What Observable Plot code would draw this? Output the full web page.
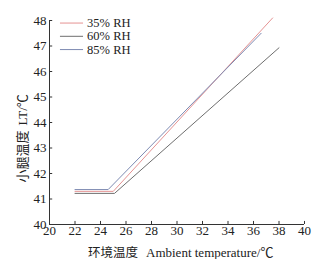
<!DOCTYPE html>
<html><head><meta charset="utf-8">
<script src="https://cdn.jsdelivr.net/npm/d3@7"></script>
<script src="https://cdn.jsdelivr.net/npm/@observablehq/plot@0.6"></script>
<style>body{margin:0;background:#fff}</style>
</head><body><div id="chart"></div>
<script>
const series = ["35% RH", "60% RH", "85% RH"];
const colors = ["#e59393", "#6e6e6e", "#7d8ab2"];
const temp35 = [22, 25.0, 37.5];
const lt35 = [41.3, 41.3, 48.1];
const temp60 = [22, 25.1, 38];
const lt60 = [41.22, 41.22, 46.93];
const temp85 = [22, 24.6, 36.6];
const lt85 = [41.37, 41.37, 47.5];
const xTicks = [20, 22, 24, 26, 28, 30, 32, 34, 36, 38, 40];
const yTicks = [40, 41, 42, 43, 44, 45, 46, 47, 48];
const xLabelZh = "环境温度";
const xLabelEn = "Ambient temperature/℃";
const yLabelZh = "小腿温度";
const yLabelEn = "LT/℃";

const rows = [];
[[temp35, lt35], [temp60, lt60], [temp85, lt85]].forEach(([xs, ys], i) =>
  xs.forEach((x, j) => rows.push({s: series[i], x, y: ys[j]})));

const serif = "'Liberation Serif', 'Noto Sans CJK SC', serif";
const cjk = "'Noto Sans CJK SC', sans-serif";
const legY = [47.9, 47.38, 46.86];
const legend = series.map((s, i) => ({s, y: legY[i]}));
const fs = 13;

const chart = Plot.plot({
  width: 317, height: 259,
  marginLeft: 49, marginRight: 13, marginTop: 20, marginBottom: 35,
  style: {fontFamily: serif, fontSize: "13px", color: "#222", background: "#fff"},
  x: {domain: [20, 40]},
  y: {domain: [40, 48]},
  color: {domain: series, range: colors},
  marks: [
    Plot.ruleY([40], {stroke: "#333"}),
    Plot.ruleX([20], {stroke: "#333"}),
    Plot.ruleX(xTicks, {y1: 40, y2: 40.12, stroke: "#333"}),
    Plot.ruleY(yTicks, {x1: 20, x2: 20.25, stroke: "#333"}),
    Plot.axisX(xTicks, {tickSize: 0, tickPadding: 1, label: null, fontSize: fs, fontFamily: serif, fill: "#222"}),
    Plot.axisY(yTicks, {tickSize: 0, tickPadding: 3, label: null, fontSize: fs, fontFamily: serif, fill: "#222"}),
    Plot.line(rows, {x: "x", y: "y", z: "s", stroke: "s", strokeWidth: 1}),
    Plot.ruleY(legend, {y: "y", x1: 20.86, x2: 22.67, stroke: "s", strokeWidth: 1}),
    Plot.text(legend, {y: "y", x: 22.95, text: "s", textAnchor: "start", fontSize: 12.5, fontFamily: serif, fill: "#222"}),
    Plot.text([xLabelZh], {frameAnchor: "bottom", lineAnchor: "bottom", dy: 32, dx: -39, textAnchor: "end", fontSize: 12.5, fontFamily: cjk, fill: "#222"}),
    Plot.text([xLabelEn], {frameAnchor: "bottom", lineAnchor: "bottom", dy: 32, dx: -31, textAnchor: "start", fontSize: fs, fontFamily: serif, fill: "#222"}),
    Plot.text([yLabelZh], {frameAnchor: "left", dx: -27, dy: 60, rotate: -90, textAnchor: "start", fontSize: 13, fontFamily: cjk, fill: "#222"}),
    Plot.text([yLabelEn], {frameAnchor: "left", dx: -27, dy: 3, rotate: -90, textAnchor: "start", fontSize: fs, fontFamily: serif, fill: "#222"})
  ]
});
document.getElementById("chart").append(chart);
</script></body></html>
